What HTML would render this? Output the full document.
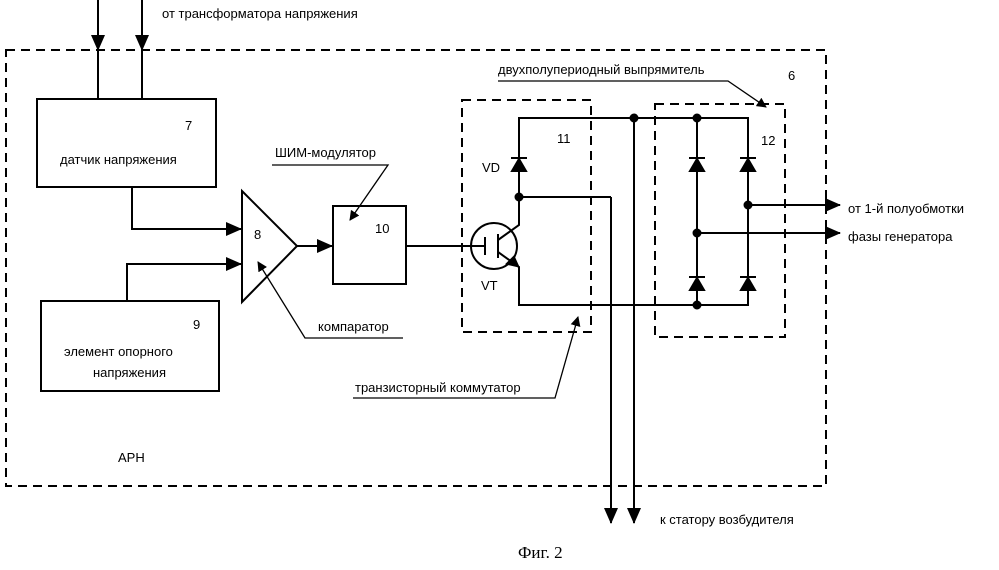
<!DOCTYPE html>
<html><head><meta charset="utf-8"><style>
html,body{margin:0;padding:0;background:#fff;}
svg{display:block;}
text{font-family:"Liberation Sans",sans-serif;font-size:13px;fill:#000;}
</style></head><body>
<svg width="999" height="570" viewBox="0 0 999 570" xmlns="http://www.w3.org/2000/svg">
<defs><marker id="a" markerWidth="10" markerHeight="10" refX="9" refY="5" orient="auto" markerUnits="userSpaceOnUse"><path d="M0,0 L10,5 L0,10 z" fill="#000"/></marker>
<marker id="b" markerWidth="16" markerHeight="14" refX="15" refY="7" orient="auto" markerUnits="userSpaceOnUse"><path d="M0,0 L16,7 L0,14 z" fill="#000"/></marker></defs>
<g stroke="#000" stroke-width="2" fill="none">
<rect x="6" y="50" width="820" height="436" stroke-dasharray="9,6"/>
<rect x="462" y="100" width="129" height="232" stroke-dasharray="9,6"/>
<rect x="655" y="104" width="130" height="233" stroke-dasharray="9,6"/>
<rect x="37" y="99" width="179" height="88"/>
<rect x="41" y="301" width="178" height="90"/>
<rect x="333" y="206" width="73" height="78"/>
<path d="M242,191 L297,246 L242,302 Z"/>
<line x1="98" y1="0" x2="98" y2="99"/>
<line x1="142" y1="0" x2="142" y2="99"/>
<line x1="98" y1="0" x2="98" y2="50" marker-end="url(#b)"/>
<line x1="142" y1="0" x2="142" y2="50" marker-end="url(#b)"/>
<polyline points="132,187 132,229 241,229" marker-end="url(#b)"/>
<polyline points="127,301 127,264 241,264" marker-end="url(#b)"/>
<line x1="297" y1="246" x2="332" y2="246" marker-end="url(#b)"/>
<line x1="406" y1="246" x2="472" y2="246"/>
<circle cx="494" cy="246" r="23"/>
<line x1="485" y1="237" x2="485" y2="255"/>
<line x1="472" y1="246" x2="485" y2="246"/>
<line x1="498" y1="234" x2="498" y2="258"/>
<polyline points="498,240 519,225 519,118 748,118 748,305 519,305 519,267 498,252"/>
<line x1="611" y1="197" x2="611" y2="520"/>
<polyline points="519,197 611,197"/>
<line x1="634" y1="118" x2="634" y2="520"/>
<line x1="697" y1="118" x2="697" y2="305"/>
<line x1="748" y1="205" x2="840" y2="205" marker-end="url(#b)"/>
<line x1="697" y1="233" x2="840" y2="233" marker-end="url(#b)"/>
<line x1="611" y1="490" x2="611" y2="523" marker-end="url(#b)"/>
<line x1="634" y1="490" x2="634" y2="523" marker-end="url(#b)"/>
<polyline points="272,165 388,165 350,220" stroke-width="1.3" marker-end="url(#a)"/>
<polyline points="403,338 305,338 258,262" stroke-width="1.3" marker-end="url(#a)"/>
<polyline points="353,398 555,398 578,317" stroke-width="1.3" marker-end="url(#a)"/>
<polyline points="498,81 728,81 766,107" stroke-width="1.3" marker-end="url(#a)"/>
</g>
<g fill="#000" stroke="#000" stroke-width="2">
<path d="M512,171 L526,171 L519,159 Z M511,158 L527,158" />
<path d="M690,171 L704,171 L697,159 Z M689,158 L705,158"/>
<path d="M741,171 L755,171 L748,159 Z M740,158 L756,158"/>
<path d="M690,290 L704,290 L697,278 Z M689,277 L705,277"/>
<path d="M741,290 L755,290 L748,278 Z M740,277 L756,277"/>
<path d="M519,267 L506,264 L514,256 Z" stroke-width="1"/>
<circle cx="519" cy="197" r="3.5"/><circle cx="634" cy="118" r="3.5"/><circle cx="697" cy="118" r="3.5"/>
<circle cx="748" cy="205" r="3.5"/><circle cx="697" cy="233" r="3.5"/><circle cx="697" cy="305" r="3.5"/>
</g>
<text x="162" y="18">от трансформатора напряжения</text>
<text x="185" y="130" font-size="16">7</text>
<text x="60" y="164">датчик напряжения</text>
<text x="254" y="239" font-size="16">8</text>
<text x="375" y="233" font-size="16">10</text>
<text x="275" y="157">ШИМ-модулятор</text>
<text x="318" y="331">компаратор</text>
<text x="193" y="329" font-size="16">9</text>
<text x="64" y="356">элемент опорного</text>
<text x="93" y="377">напряжения</text>
<text x="355" y="392">транзисторный коммутатор</text>
<text x="118" y="462">АРН</text>
<text x="498" y="74">двухполупериодный выпрямитель</text>
<text x="788" y="80" font-size="16">6</text>
<text x="557" y="143" font-size="16">11</text>
<text x="761" y="145" font-size="16">12</text>
<text x="482" y="172">VD</text>
<text x="481" y="290">VT</text>
<text x="848" y="213">от 1-й полуобмотки</text>
<text x="848" y="241">фазы генератора</text>
<text x="660" y="524">к статору возбудителя</text>
<text x="518" y="558" style="font-family:'Liberation Serif',serif;font-size:17px">Фиг. 2</text>
</svg>
</body></html>
